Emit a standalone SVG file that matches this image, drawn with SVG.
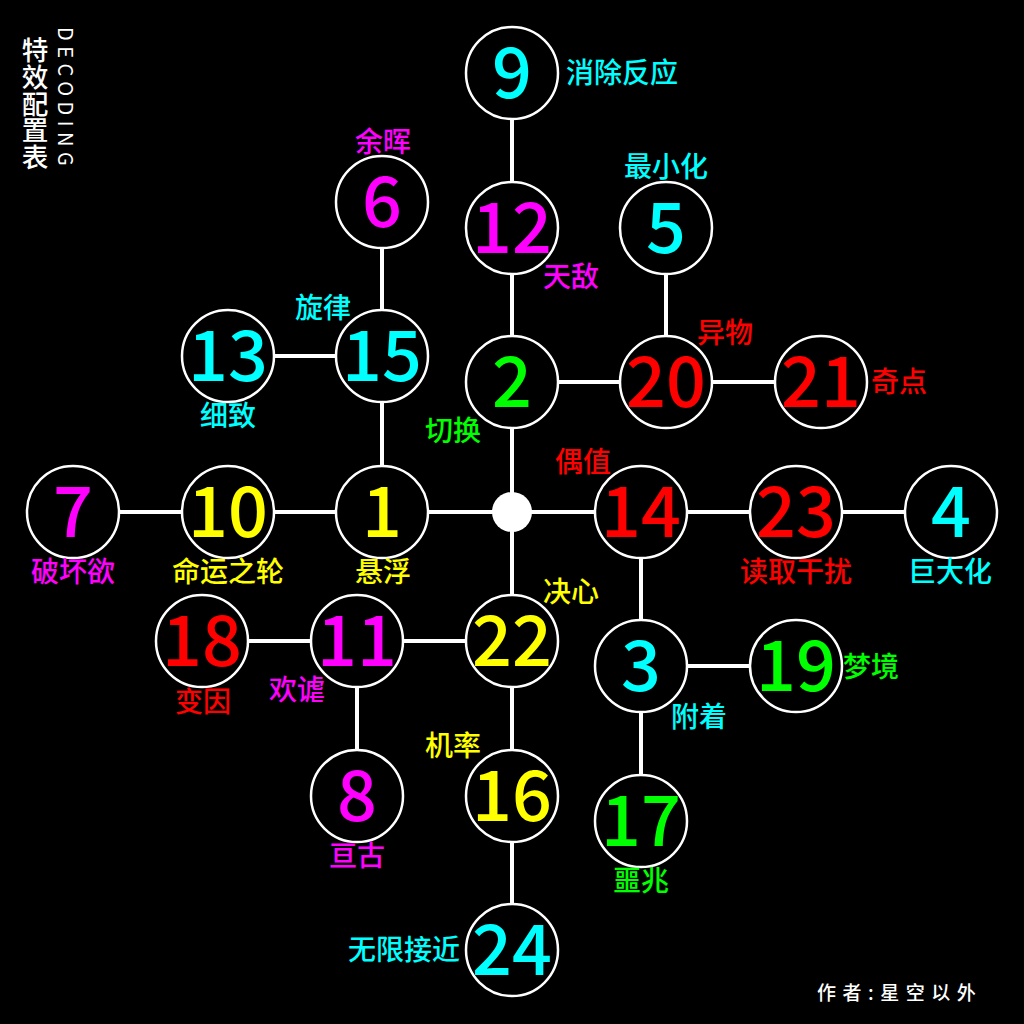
<svg xmlns="http://www.w3.org/2000/svg" width="1024" height="1024" viewBox="0 0 1024 1024">
<style>
.bg{fill:#000}
.c{fill:#000;stroke:#fff;stroke-width:2.5}
.n{font-family:"Noto Sans CJK SC",sans-serif;font-weight:500;font-size:70px;text-anchor:middle}
.l{font-family:"Noto Sans CJK SC",sans-serif;font-weight:500;font-size:28px;text-anchor:middle}
.cy{fill:#00ffff}.mg{fill:#ff00ff}.rd{fill:#ff0000}.ye{fill:#ffff00}.gr{fill:#00ff00}
#connectors line{stroke:#fff;stroke-width:4}
</style>
<rect class="bg" x="0" y="0" width="1024" height="1024"/>
<g id="title" fill="#fff">
<text x="35" y="37" writing-mode="vertical-rl" font-family="Noto Sans CJK SC,sans-serif" font-weight="500" font-size="26.6">特效配置表</text>
<text transform="translate(58,27) rotate(90)" font-family="Noto Sans CJK SC,sans-serif" font-size="20" letter-spacing="5.5">DECODING</text>
</g>
<g id="connectors">
<line x1="512" y1="73" x2="512" y2="950"/>
<line x1="382" y1="202" x2="382" y2="512"/>
<line x1="228" y1="356" x2="382" y2="356"/>
<line x1="73" y1="512" x2="950" y2="512"/>
<line x1="512" y1="382" x2="821" y2="382"/>
<line x1="666" y1="228" x2="666" y2="382"/>
<line x1="641" y1="512" x2="641" y2="821"/>
<line x1="641" y1="666" x2="796" y2="666"/>
<line x1="202" y1="641" x2="512" y2="641"/>
<line x1="357" y1="641" x2="357" y2="796"/>
</g>
<circle id="hub" cx="512" cy="512" r="20" fill="#fff"/>
<g id="n9"><circle class="c" cx="512" cy="73" r="46"/><text class="n cy" x="512" y="98">9</text><text class="l cy" x="622" y="83">消除反应</text></g>
<g id="n12"><circle class="c" cx="512" cy="228" r="46"/><text class="n mg" x="512" y="253">12</text><text class="l mg" x="571" y="287">天敌</text></g>
<g id="n2"><circle class="c" cx="512" cy="382" r="46"/><text class="n gr" x="512" y="407">2</text><text class="l gr" x="453" y="441">切换</text></g>
<g id="n6"><circle class="c" cx="382" cy="202" r="46"/><text class="n mg" x="382" y="227">6</text><text class="l mg" x="383" y="152">余晖</text></g>
<g id="n15"><circle class="c" cx="382" cy="356" r="46"/><text class="n cy" x="382" y="381">15</text><text class="l cy" x="323" y="318">旋律</text></g>
<g id="n13"><circle class="c" cx="228" cy="356" r="46"/><text class="n cy" x="228" y="381">13</text><text class="l cy" x="228" y="426">细致</text></g>
<g id="n5"><circle class="c" cx="666" cy="228" r="46"/><text class="n cy" x="666" y="253">5</text><text class="l cy" x="666" y="177">最小化</text></g>
<g id="n20"><circle class="c" cx="666" cy="382" r="46"/><text class="n rd" x="666" y="407">20</text><text class="l rd" x="725" y="343">异物</text></g>
<g id="n21"><circle class="c" cx="821" cy="382" r="46"/><text class="n rd" x="821" y="407">21</text><text class="l rd" x="899" y="392">奇点</text></g>
<g id="n7"><circle class="c" cx="73" cy="512" r="46"/><text class="n mg" x="73" y="537">7</text><text class="l mg" x="73" y="582">破坏欲</text></g>
<g id="n10"><circle class="c" cx="228" cy="512" r="46"/><text class="n ye" x="228" y="537">10</text><text class="l ye" x="228" y="582">命运之轮</text></g>
<g id="n1"><circle class="c" cx="382" cy="512" r="46"/><text class="n ye" x="382" y="537">1</text><text class="l ye" x="383" y="582">悬浮</text></g>
<g id="n14"><circle class="c" cx="641" cy="512" r="46"/><text class="n rd" x="641" y="537">14</text><text class="l rd" x="583" y="472">偶值</text></g>
<g id="n23"><circle class="c" cx="796" cy="512" r="46"/><text class="n rd" x="796" y="537">23</text><text class="l rd" x="796" y="582">读取干扰</text></g>
<g id="n4"><circle class="c" cx="951" cy="512" r="46"/><text class="n cy" x="951" y="537">4</text><text class="l cy" x="950" y="582">巨大化</text></g>
<g id="n22"><circle class="c" cx="512" cy="641" r="46"/><text class="n ye" x="512" y="666">22</text><text class="l ye" x="571" y="602">决心</text></g>
<g id="n11"><circle class="c" cx="357" cy="641" r="46"/><text class="n mg" x="357" y="666">11</text><text class="l mg" x="297" y="700">欢谑</text></g>
<g id="n18"><circle class="c" cx="202" cy="641" r="46"/><text class="n rd" x="202" y="666">18</text><text class="l rd" x="203" y="712">变因</text></g>
<g id="n3"><circle class="c" cx="641" cy="666" r="46"/><text class="n cy" x="641" y="691">3</text><text class="l cy" x="699" y="727">附着</text></g>
<g id="n19"><circle class="c" cx="796" cy="666" r="46"/><text class="n gr" x="796" y="691">19</text><text class="l gr" x="871" y="677">梦境</text></g>
<g id="n8"><circle class="c" cx="357" cy="796" r="46"/><text class="n mg" x="357" y="821">8</text><text class="l mg" x="357" y="866">亘古</text></g>
<g id="n16"><circle class="c" cx="512" cy="796" r="46"/><text class="n ye" x="512" y="821">16</text><text class="l ye" x="453" y="756">机率</text></g>
<g id="n17"><circle class="c" cx="641" cy="821" r="46"/><text class="n gr" x="641" y="846">17</text><text class="l gr" x="641" y="891">噩兆</text></g>
<g id="n24"><circle class="c" cx="512" cy="950" r="46"/><text class="n cy" x="512" y="975">24</text><text class="l cy" x="404" y="960">无限接近</text></g>
<text id="author" x="817" y="1000" fill="#fff" font-family="Noto Sans CJK SC,sans-serif" font-weight="500" font-size="19" letter-spacing="6.5">作者:星空以外</text>
</svg>
